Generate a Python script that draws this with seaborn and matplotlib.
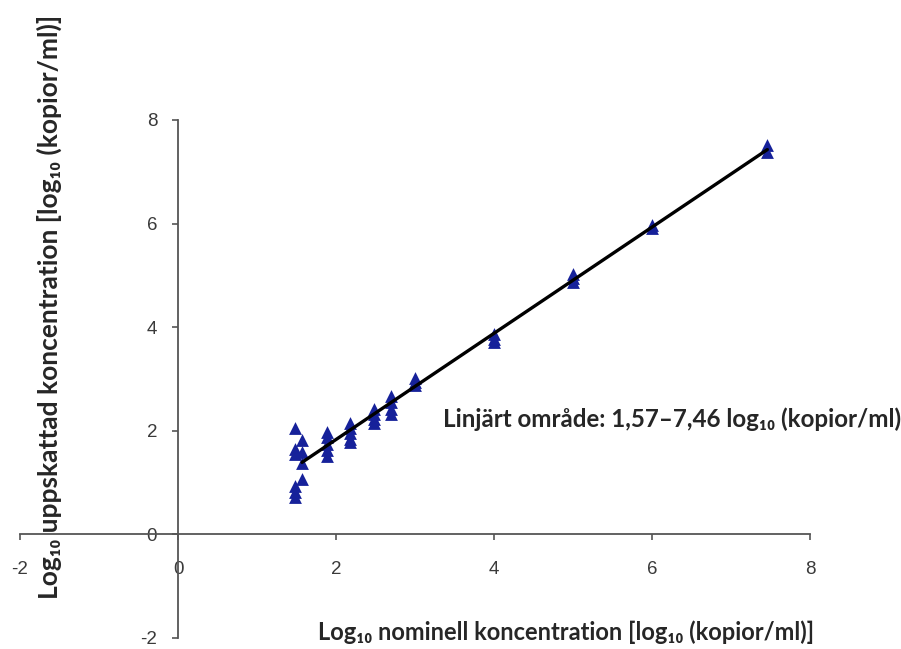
import numpy as np
import pandas as pd
import matplotlib
matplotlib.use("Agg")
import matplotlib.pyplot as plt
import seaborn as sns

# --------------------------------
# data
# --------------------------------
nominal = [1.48] * 6 + [1.57] * 4 + [1.88] * 5 + [2.18] * 5 + [2.48] * 4 + [2.70] * 4 \
    + [3.00] * 3 + [4.00] * 3 + [5.00] * 3 + [6.00] * 2 + [7.46] * 2
estimated = [2.05, 1.65, 1.55, 0.93, 0.82, 0.72,
             1.82, 1.60, 1.38, 1.07,
             1.97, 1.88, 1.75, 1.62, 1.52,
             2.15, 2.05, 1.95, 1.85, 1.78,
             2.42, 2.32, 2.22, 2.15,
             2.68, 2.55, 2.42, 2.32,
             3.02, 2.95, 2.88,
             3.87, 3.78, 3.72,
             5.02, 4.95, 4.88,
             5.97, 5.92,
             7.52, 7.38]
axis_ticks = [-2, 0, 2, 4, 6, 8]
linear_low, linear_high = 1.57, 7.46

x_label = "Log\u2081\u2080 nominell koncentration [log\u2081\u2080 (kopior/ml)]"
y_label = "Log\u2081\u2080 uppskattad koncentration [log\u2081\u2080 (kopior/ml)]"
range_label = "Linjärt område: 1,57\u20137,46 log\u2081\u2080 (kopior/ml)"

df = pd.DataFrame({"nominal": nominal, "estimated": estimated})
linear = df[(df["nominal"] >= linear_low) & (df["nominal"] <= linear_high)]

# --------------------------------
# figure
# --------------------------------
sns.set_style("ticks")
plt.rcParams["font.family"] = ["Liberation Sans", "DejaVu Sans"]
plt.rcParams["axes.unicode_minus"] = False

fig = plt.figure(figsize=(9.01, 6.49), dpi=100)
ax = fig.add_axes([20 / 901, 11 / 649, 790 / 901, 518 / 649])

sns.scatterplot(data=df, x="nominal", y="estimated", marker="^", s=85,
                color="#16219a", linewidth=0, ax=ax, zorder=2)
sns.regplot(data=linear, x="nominal", y="estimated", scatter=False, ci=None,
            line_kws={"color": "black", "linewidth": 2.4, "zorder": 3}, ax=ax)

ax.set_xlim(-2, 8)
ax.set_ylim(-2, 8)
ax.set_xticks(axis_ticks)
ax.set_yticks(axis_ticks)
ax.set_xlabel("")
ax.set_ylabel("")

for side in ["top", "right"]:
    ax.spines[side].set_visible(False)
for side in ["left", "bottom"]:
    ax.spines[side].set_position(("data", 0))
    ax.spines[side].set_color("#555555")
    ax.spines[side].set_linewidth(1.3)

ax.tick_params(axis="both", direction="out", length=4, width=1.2, color="#555555",
               labelsize=13.5, labelcolor="#3a3a3a", left=True, bottom=True)
ax.tick_params(axis="x", pad=15)
ax.tick_params(axis="y", pad=11)

text_font = ["Lato", "DejaVu Sans"]
fig.text(49 / 901, (649 - 307) / 649, y_label, rotation=90, ha="center", va="center",
         fontsize=19, fontweight="bold", family=text_font)
fig.text(318 / 901, (649 - 632) / 649, x_label, ha="left", va="center",
         fontsize=17, fontweight="bold", family=text_font)
fig.text(443 / 901, (649 - 419) / 649, range_label, ha="left", va="center",
         fontsize=17.4, fontweight="bold", family=text_font)

fig.savefig("out.png", dpi=100)
